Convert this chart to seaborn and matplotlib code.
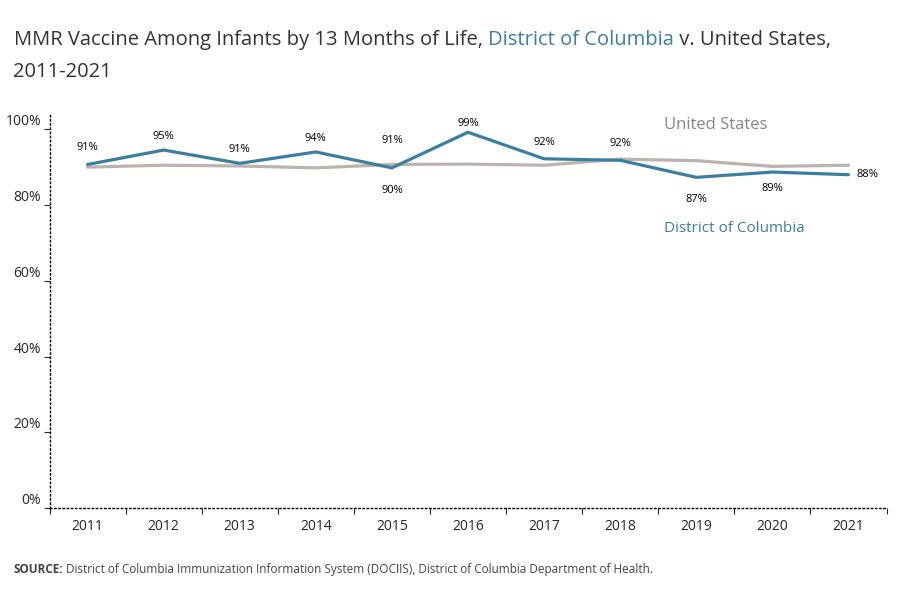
import matplotlib
matplotlib.use("Agg")
import matplotlib.pyplot as plt
import seaborn as sns
import pandas as pd
import numpy as np

years = [2011, 2012, 2013, 2014, 2015, 2016, 2017, 2018, 2019, 2020, 2021]
dc = [0.907, 0.945, 0.910, 0.940, 0.898, 0.992, 0.922, 0.918, 0.873, 0.887, 0.880]
us = [0.900, 0.905, 0.903, 0.898, 0.907, 0.908, 0.905, 0.921, 0.917, 0.902, 0.905]
dc_labels = ["91%", "95%", "91%", "94%", "90%", "99%", "92%", "92%", "87%", "89%", "88%"]
us_label_2015 = "91%"

sns.set_style("white")
plt.rcParams['font.family'] = ['Open Sans', 'DejaVu Sans']

fig = plt.figure(figsize=(9, 6), dpi=100)
ax = fig.add_axes([0.055, 0.153, 0.93, 0.655])

x = np.arange(len(years))
df = pd.DataFrame({"x": np.concatenate([x, x]), "v": us + dc,
                   "s": ["United States"] * 11 + ["District of Columbia"] * 11})
sns.lineplot(data=df, x="x", y="v", hue="s",
             palette={"United States": "#bcb2ae", "District of Columbia": "#3b7f9e"},
             hue_order=["United States", "District of Columbia"],
             linewidth=2.3, legend=False, ax=ax)

offs = [(0, 12), (0, 10), (0, 10), (0, 10), (0, -16), (0, 6), (0, 12), (0, 12), (0, -16), (0, -12), (14, 0)]
for i, (lab, o) in enumerate(zip(dc_labels, offs)):
    ax.annotate(lab, (x[i], dc[i]), xytext=o, textcoords="offset points",
                ha="center", va="center", fontsize=8, color="black")
ax.annotate(us_label_2015, (4, dc[4]), xytext=(0, 20), textcoords="offset points",
            ha="center", va="center", fontsize=8, color="black")

ax.text(8.25, 1.0, "United States", color="#8c8480", fontsize=12, ha="center")
ax.text(8.5, 0.73, "District of Columbia", color="#3b7f9e", fontsize=11, ha="center")

ax.set_xlim(-0.5, 10.5)
ax.set_ylim(0, 1.037)
ax.set_xticks(np.arange(-0.5, 11, 1))
ax.set_xticklabels([])
ax.set_xticks(x, minor=True)
ax.set_xticklabels([str(y) for y in years], minor=True, fontsize=10)
ax.tick_params(axis="x", which="minor", length=0, pad=8)
ax.tick_params(axis="x", which="major", length=4, direction="out", bottom=True)
ax.set_yticks([0, 0.2, 0.4, 0.6, 0.8, 1.0])
ax.set_yticklabels(["0%", "20%", "40%", "60%", "80%", "100%"], fontsize=10)
ax.tick_params(axis="y", length=4, direction="out", left=True, pad=2)
for t in ax.get_yticklabels():
    t.set_verticalalignment("bottom")
for s in ["top", "right"]:
    ax.spines[s].set_visible(False)
for s in ["left", "bottom"]:
    ax.spines[s].set_linestyle((0, (1, 2)))
    ax.spines[s].set_color("black")
    ax.spines[s].set_linewidth(1)
ax.set_xlabel("")
ax.set_ylabel("")

fig.canvas.draw()
r = fig.canvas.get_renderer()
t0 = fig.text(0.015, 0.925, "MMR Vaccine Among Infants by 13 Months of Life, ", fontsize=14.5, color="#333333")
w = t0.get_window_extent(r).width / fig.bbox.width
t2 = fig.text(0.015 + w, 0.925, "District of Columbia", fontsize=14.5, color="#3b7f9e")
w2 = t2.get_window_extent(r).width / fig.bbox.width
fig.text(0.015 + w + w2, 0.925, " v. United States,", fontsize=14.5, color="#333333")
fig.text(0.015, 0.872, "2011-2021", fontsize=14.5, color="#333333")

fig.text(0.015, 0.045, "SOURCE:", fontsize=8.5, fontweight="bold", color="#444444")
fig.text(0.073, 0.045, "District of Columbia Immunization Information System (DOCIIS), District of Columbia Department of Health.",
         fontsize=8.5, color="#444444")

fig.savefig("out.png", dpi=100)
